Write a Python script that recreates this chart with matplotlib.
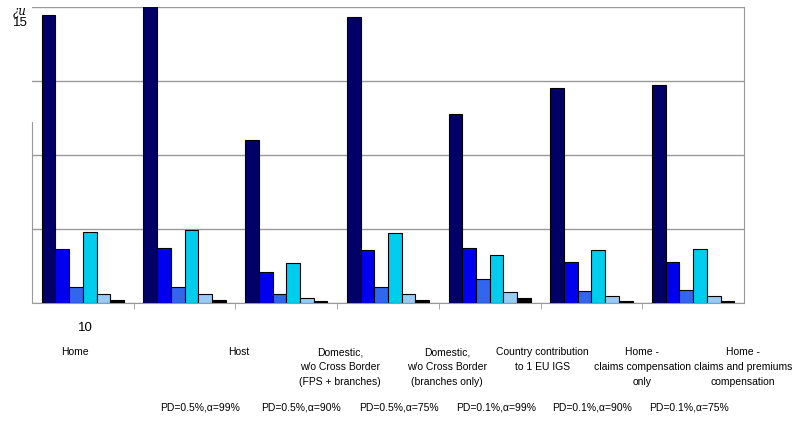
import numpy as np
import matplotlib
matplotlib.use("Agg")
import matplotlib.pyplot as plt

plt.rcParams['font.family'] = ['Liberation Sans', 'DejaVu Sans']

categories = ["Home", "Host", "Domestic,\nw/o Cross Border\n(FPS + branches)",
              "Domestic,\nw/o Cross Border\n(branches only)",
              "Country contribution\nto 1 EU IGS",
              "Home -\nclaims compensation\nonly",
              "Home -\nclaims and premiums\ncompensation"]
series_names = ["PD=0.5%,α=99%", "PD=0.5%,α=90%", "PD=0.5%,α=75%",
                "PD=0.1%,α=99%", "PD=0.1%,α=90%", "PD=0.1%,α=75%"]

# one list per series, one value per group (grid step = 1)
s1 = [3.89, 4.30, 2.20, 3.87, 2.55, 2.91, 2.95]
s2 = [0.73, 0.75, 0.42, 0.72, 0.74, 0.55, 0.56]
s3 = [0.21, 0.22, 0.12, 0.22, 0.32, 0.16, 0.18]
s4 = [0.96, 0.98, 0.54, 0.95, 0.65, 0.72, 0.73]
s5 = [0.12, 0.12, 0.07, 0.12, 0.15, 0.09, 0.09]
s6 = [0.035, 0.035, 0.03, 0.04, 0.07, 0.03, 0.03]
series = [s1, s2, s3, s4, s5, s6]
colors = ["#000066", "#0000EE", "#3366EE", "#00CCEE", "#99CCF5", "#000000"]

# label x positions (odd placement in the original, data units)
label_x = [-0.08, 1.535, 2.53, 3.58, 4.52, 5.50, 6.49]

fig = plt.figure(figsize=(7.92, 4.21), dpi=100)
ax = fig.add_axes([32 / 792, 118 / 421, 712 / 792, 296 / 421])

x = np.arange(len(categories))
w = 0.135
for i, (vals, col) in enumerate(zip(series, colors)):
    ax.bar(x + (i - 2.5) * w, vals, w, color=col, edgecolor="black",
           linewidth=0.8, zorder=3)

ax.set_xlim(-0.5, 6.5)
ax.set_ylim(0, 4)
ax.set_yticks([0, 1, 2, 3, 4])
ax.set_yticklabels([])
ax.tick_params(axis="y", length=0)
ax.grid(axis="y", color="#999999", linewidth=1, zorder=0)

ax.set_xticks([])
ax.set_xticks(np.arange(0.5, 6.5, 1), minor=True)
ax.tick_params(axis="x", which="minor", length=4, color="#999999", direction="out")

ax.spines["top"].set_visible(False)
for s in ["left", "right", "bottom"]:
    ax.spines[s].set_color("#999999")
ax.spines["left"].set_bounds(0, 2.45)

for lx, lab in zip(label_x, categories):
    ax.text(lx, -0.595, lab, ha="center", va="top", fontsize=7.5,
            linespacing=1.62, transform=ax.transData)

# series names row
name_px = [200, 301, 399, 496, 592, 689]
for px, name in zip(name_px, series_names):
    fig.text(px / 792, 1 - 408 / 421, name, ha="center", va="center", fontsize=7.5)

fig.text(20 / 792, 1 - 11 / 421, "¿u", ha="center", va="center", fontsize=8.5,
         family="DejaVu Serif", style="italic")
fig.text(20 / 792, 1 - 23 / 421, "15", ha="center", va="center", fontsize=9.5)
fig.text(85 / 792, 1 - 328 / 421, "10", ha="center", va="center", fontsize=9.5)

fig.savefig("out.png", dpi=100)
